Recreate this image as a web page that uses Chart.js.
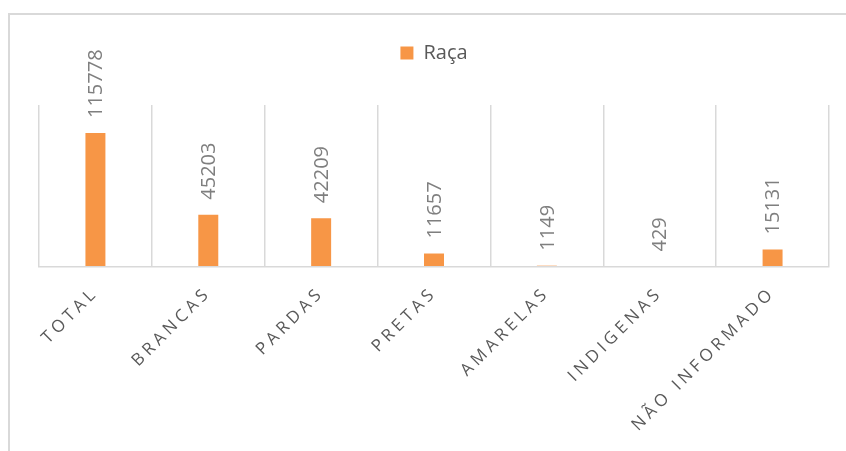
<!DOCTYPE html>
<html>
<head>
<meta charset="utf-8">
<script src="https://cdn.jsdelivr.net/npm/chart.js@4/dist/chart.umd.min.js"></script>
<style>
  html, body { margin: 0; padding: 0; background: #ffffff; }
  #wrap { position: relative; width: 846px; height: 451px; overflow: hidden; }
  #frame { position: absolute; left: 8px; top: 13px; width: 900px; height: 500px;
           border-left: 2px solid #d9d9d9; border-top: 2px solid #d9d9d9; }
  #c { position: absolute; left: 0; top: 0; }
</style>
</head>
<body>
<div id="wrap">
  <div id="frame"></div>
  <canvas id="c" width="846" height="451"></canvas>
</div>
<script>
const categories = ["TOTAL", "BRANCAS", "PARDAS", "PRETAS", "AMARELAS", "INDIGENAS", "NÃO INFORMADO"];
const seriesName = "Raça";
const values = [115778, 45203, 42209, 11657, 1149, 429, 15131];

const valueLabels = {
  id: 'valueLabels',
  afterDatasetsDraw(chart) {
    const ctx = chart.ctx;
    const meta = chart.getDatasetMeta(0);
    ctx.save();
    ctx.letterSpacing = '0px';
    ctx.font = '20px "Open Sans"';
    ctx.fillStyle = '#7f7f7f';
    ctx.textAlign = 'left';
    ctx.textBaseline = 'middle';
    meta.data.forEach((bar, i) => {
      ctx.save();
      ctx.translate(bar.x + 1, bar.y - 15);
      ctx.rotate(-Math.PI / 2);
      ctx.fillText(String(values[i]), 0, 0);
      ctx.restore();
    });
    ctx.restore();
  }
};

const spacedTicks = {
  id: 'spacedTicks',
  beforeDraw(chart) {
    const s = chart.scales.x;
    if (s && !s._spaced) {
      const orig = s.drawLabels;
      s.drawLabels = function (area) {
        const c = this.ctx;
        c.save();
        c.letterSpacing = '4px';
        orig.call(this, area);
        c.restore();
      };
      s._spaced = true;
    }
  }
};

new Chart(document.getElementById('c'), {
  type: 'bar',
  data: {
    labels: categories,
    datasets: [{
      label: seriesName,
      data: values,
      backgroundColor: '#f79646',
      borderWidth: 0,
      barPercentage: 1,
      categoryPercentage: 0.177
    }]
  },
  options: {
    responsive: false,
    animation: false,
    layout: { padding: { left: 39, right: 17, top: 33, bottom: 0 } },
    plugins: {
      legend: {
        display: true,
        position: 'top',
        labels: {
          boxWidth: 13, boxHeight: 13, padding: 10,
          color: '#595959',
          font: { family: '"Open Sans"', size: 20 }
        }
      },
      tooltip: { enabled: false }
    },
    scales: {
      x: {
        position: 'bottom',
        grid: { display: true, offset: true, color: '#d9d9d9', lineWidth: 1.5, drawTicks: false },
        border: { display: true, color: '#d9d9d9', width: 1.5, z: 1 },
        ticks: {
          color: '#595959',
          font: { family: '"Open Sans"', size: 17 },
          minRotation: 45, maxRotation: 45,
          autoSkip: false,
          padding: 16
        },
        afterFit(s) { s.height = 184; }
      },
      top: {
        type: 'category',
        position: 'top',
        display: true,
        grid: { display: false },
        border: { display: false },
        ticks: { display: false },
        afterFit(s) { s.height = 32; }
      },
      y: {
        display: false,
        min: 0,
        max: 140000
      }
    }
  },
  plugins: [valueLabels, spacedTicks]
});
</script>
</body>
</html>
